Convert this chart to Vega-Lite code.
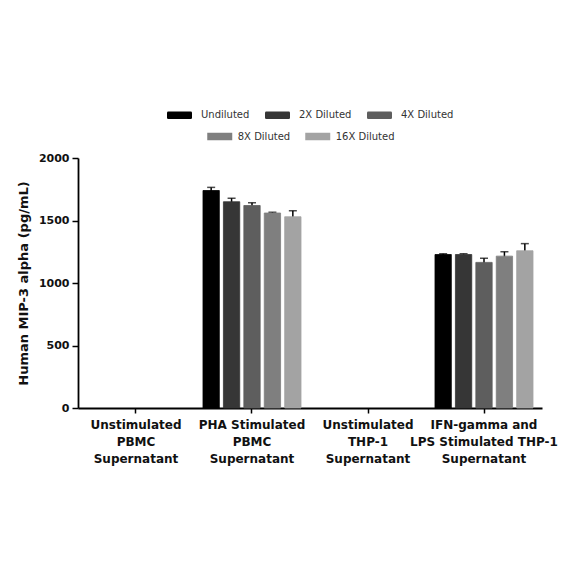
{
  "$schema": "https://vega.github.io/schema/vega-lite/v6.json",
  "width": 464,
  "height": 250,
  "autosize": {"type": "none"},
  "padding": {"left": 78, "top": 158, "right": 42, "bottom": 176},
  "background": "white",
  "config": {
    "view": {"stroke": null},
    "axis": {
      "domainColor": "black", "domainWidth": 1.8, "tickColor": "black", "tickWidth": 1.5,
      "grid": false, "labelFont": "DejaVu Sans", "labelFontWeight": "bold", "labelColor": "#111",
      "titleFont": "DejaVu Sans", "titleFontWeight": "bold", "titleColor": "#111"
    }
  },
  "data": {
    "values": [
      {"group": "PHA Stimulated PBMC Supernatant", "dilution": "Undiluted", "value": 1740, "lower": 1715, "upper": 1765},
      {"group": "PHA Stimulated PBMC Supernatant", "dilution": "2X Diluted", "value": 1650, "lower": 1622, "upper": 1678},
      {"group": "PHA Stimulated PBMC Supernatant", "dilution": "4X Diluted", "value": 1620, "lower": 1598, "upper": 1642},
      {"group": "PHA Stimulated PBMC Supernatant", "dilution": "8X Diluted", "value": 1560, "lower": 1554, "upper": 1566},
      {"group": "PHA Stimulated PBMC Supernatant", "dilution": "16X Diluted", "value": 1530, "lower": 1482, "upper": 1578},
      {"group": "IFN-gamma and LPS Stimulated THP-1 Supernatant", "dilution": "Undiluted", "value": 1228, "lower": 1222, "upper": 1234},
      {"group": "IFN-gamma and LPS Stimulated THP-1 Supernatant", "dilution": "2X Diluted", "value": 1228, "lower": 1222, "upper": 1234},
      {"group": "IFN-gamma and LPS Stimulated THP-1 Supernatant", "dilution": "4X Diluted", "value": 1165, "lower": 1132, "upper": 1198},
      {"group": "IFN-gamma and LPS Stimulated THP-1 Supernatant", "dilution": "8X Diluted", "value": 1215, "lower": 1180, "upper": 1250},
      {"group": "IFN-gamma and LPS Stimulated THP-1 Supernatant", "dilution": "16X Diluted", "value": 1258, "lower": 1201, "upper": 1315}
    ]
  },
  "encoding": {
    "x": {
      "field": "group", "type": "nominal",
      "scale": {"domain": ["Unstimulated PBMC Supernatant", "PHA Stimulated PBMC Supernatant", "Unstimulated THP-1 Supernatant", "IFN-gamma and LPS Stimulated THP-1 Supernatant"], "paddingInner": 0.155, "paddingOuter": 0.0775},
      "axis": {
        "title": null, "labelAngle": 0, "labelFontSize": 12, "labelLineHeight": 17, "tickSize": 5, "labelPadding": 6,
        "labelExpr": "datum.value == 'IFN-gamma and LPS Stimulated THP-1 Supernatant' ? ['IFN-gamma and','LPS Stimulated THP-1','Supernatant'] : datum.value == 'PHA Stimulated PBMC Supernatant' ? ['PHA Stimulated','PBMC','Supernatant'] : datum.value == 'Unstimulated PBMC Supernatant' ? ['Unstimulated','PBMC','Supernatant'] : ['Unstimulated','THP-1','Supernatant']"
      }
    },
    "xOffset": {
      "field": "dilution", "type": "nominal",
      "scale": {"domain": ["Undiluted", "2X Diluted", "4X Diluted", "8X Diluted", "16X Diluted"], "paddingInner": 0.2, "paddingOuter": 0}
    }
  },
  "layer": [
    {
      "mark": {"type": "rule", "color": "black", "strokeWidth": 1.5},
      "encoding": {
        "y": {"field": "lower", "type": "quantitative"},
        "y2": {"field": "upper"}
      }
    },
    {
      "mark": {"type": "tick", "color": "black", "thickness": 1.5, "size": 8, "orient": "horizontal"},
      "encoding": {
        "y": {"field": "upper", "type": "quantitative"}
      }
    },
    {
      "mark": {"type": "bar", "strokeWidth": 0.8},
      "encoding": {
        "y": {
          "field": "value", "type": "quantitative",
          "scale": {"domain": [0, 2000], "nice": false},
          "axis": {"title": "Human MIP-3 alpha (pg/mL)", "values": [0, 500, 1000, 1500, 2000], "format": "d", "tickSize": 6, "labelFontSize": 11, "titleFontSize": 13, "titlePadding": 8, "labelPadding": 3}
        },
        "fill": {
          "field": "dilution", "type": "nominal",
          "scale": {"domain": ["Undiluted", "2X Diluted", "4X Diluted", "8X Diluted", "16X Diluted"], "range": ["#000000", "#363636", "#5e5e5e", "#7f7f7f", "#a3a3a3"]},
          "legend": {
            "values": ["Undiluted", "2X Diluted", "4X Diluted"],
            "orient": "none", "legendX": 89, "legendY": -55.5, "direction": "horizontal", "title": null,
            "symbolType": "M-0.9,-0.3H0.9Q1,-0.3 1,-0.2V0.2Q1,0.3 0.9,0.3H-0.9Q-1,0.3 -1,0.2V-0.2Q-1,-0.3 -0.9,-0.3Z",
            "symbolSize": 625, "symbolStrokeWidth": 0, "labelOffset": 9, "columnPadding": 15, "padding": 0,
            "labelFont": "DejaVu Sans", "labelFontSize": 10, "labelColor": "#333"
          }
        },
        "stroke": {
          "field": "dilution", "type": "nominal",
          "scale": {"domain": ["8X Diluted", "16X Diluted", "Undiluted", "2X Diluted", "4X Diluted"], "range": ["#7f7f7f", "#a3a3a3", "#000000", "#363636", "#5e5e5e"]},
          "legend": {
            "values": ["8X Diluted", "16X Diluted"],
            "orient": "none", "legendX": 125.25, "legendY": -38.25, "direction": "horizontal", "title": null,
            "symbolType": "M-1,0H1",
            "symbolSize": 625, "symbolStrokeWidth": 7.5, "symbolFillColor": "transparent", "labelOffset": 1.5, "columnPadding": 0, "padding": 0,
            "labelFont": "DejaVu Sans", "labelFontSize": 10, "labelColor": "#333"
          }
        }
      }
    }
  ]
}
